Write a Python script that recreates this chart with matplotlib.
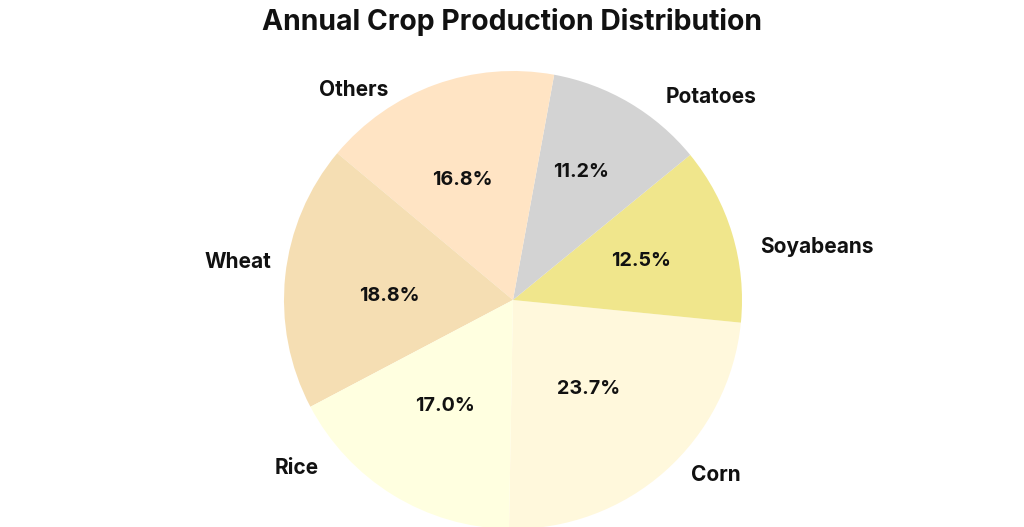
import matplotlib.pyplot as plt

# crop shares, counter-clockwise from the bottom
crops = ["Corn", "Soyabeans", "Potatoes", "Others", "Wheat", "Rice"]
shares = [23.7, 12.5, 11.2, 16.8, 18.8, 17.0]
colors = ["cornsilk", "khaki", "lightgray", "bisque", "wheat", "lightyellow"]

# where the text sits, in pixels of the picture (x, y from top)
label_px = [(716, 475), (817, 247), (711, 97), (354, 90), (238, 262), (297, 468)]
pct_px = [(589, 389), (641, 261), (581, 172), (462, 180), (389, 296), (445, 406)]

CX, CY, R = 513, 300, 229  # pie centre and radius in px

fig = plt.figure(figsize=(10.24, 5.27), dpi=100)
ax = fig.add_axes([0, 0, 1, 1])

wedges, texts, autotexts = ax.pie(shares, labels=crops, colors=colors,
                                  startangle=-91, counterclock=True,
                                  autopct="%1.1f%%", pctdistance=0.57,
                                  labeldistance=1.1, radius=1,
                                  textprops={"fontsize": 15, "fontweight": "bold",
                                             "family": "Inter", "color": "#111111"})

# move the texts to where they are in the original
for t, (px, py) in zip(texts, label_px):
    t.set_position(((px - CX) / R, (CY - py) / R))
    t.set_ha("center")
    t.set_va("center")
for t, (px, py) in zip(autotexts, pct_px):
    t.set_position(((px - CX) / R, (CY - py) / R))
    t.set_fontsize(14.2)

ax.set_xlim(-CX / R, (1024 - CX) / R)
ax.set_ylim(-(527 - CY) / R, CY / R)
ax.axis("off")

fig.text(0.5, 1 - 22 / 527, "Annual Crop Production Distribution", ha="center", va="center",
         fontsize=20.4, fontweight="bold", family="Inter", color="#111111")

fig.savefig("out.png", dpi=100)
